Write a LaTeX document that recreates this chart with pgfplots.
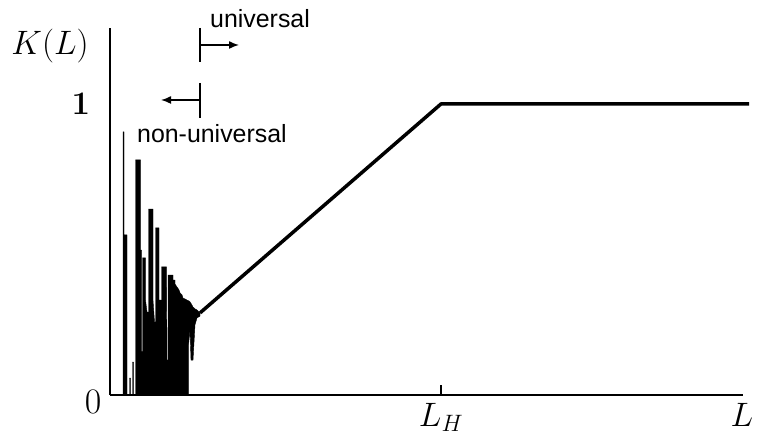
\RequirePackage{fix-cm}
\documentclass[border=0pt]{standalone}
\usepackage{fontspec}
\setsansfont{Liberation Sans}
\usepackage{pgfplots}
\pgfplotsset{compat=1.18}
\usetikzlibrary{arrows.meta}

\begin{document}
\begin{tikzpicture}[x=1bp,y=1bp]
\useasboundingbox (0,0) rectangle (757,443);
\begin{axis}[
  at={(110bp,48bp)}, anchor=south west, scale only axis,
  width=633bp, height=367bp,
  xmin=0, xmax=633, ymin=0, ymax=1.261,
  axis x line=bottom, axis y line=left,
  axis line style={-, line width=1.5bp},
  xtick={331}, xticklabels={$L_H$},
  ytick=\empty,
  tick align=inside, major tick length=10bp,
  xtick style={line width=2bp, black},
  xticklabel style={font=\fontsize{34}{40}\selectfont, anchor=north, inner sep=0pt, yshift=-8bp},
  clip=false,
]
% non-universal regime: erratic spikes at small L
\addplot[fill=black, draw=black, line width=0.4bp, line join=miter] coordinates {
  (11,0)
  (13,0)(13,0.904)(14,0.904)(14,0.550)(17,0.550)(17,0)
  (19.5,0)(19.5,0.058)(20.5,0.058)(20.5,0)
  (22.5,0)(22.5,0.113)(23.5,0.113)(23.5,0)
  (25.5,0)(25.5,0.808)(30.5,0.808)(30.5,0.498)(31.5,0.498)(31.5,0.150)
  (32.5,0.150)(32.5,0.471)(35.5,0.471)(35.5,0.326)(37,0.285)(38.5,0.285)
  (38.5,0.639)(43,0.639)(43,0.326)(44.5,0.251)(45.5,0.251)
  (45.5,0.574)(49,0.574)(49,0.326)(51.5,0.326)
  (51.5,0.440)(56.5,0.440)(56.5,0.395)(57,0.120)(58,0.120)
  (58,0.412)(63,0.412)
  (63,0.395)(65,0.395)(65,0.381)(67,0.371)(69,0.361)(70,0.351)(72,0.344)
  (73,0.333)(75,0.330)(77,0.326)(79,0.323)(80,0.320)(82,0.309)(83,0.302)
  (85,0.296)(87,0.292)(89,0.285)(90,0.282)
  (90,0.271)(87,0.265)(85,0.241)(83,0.120)(81,0.120)(80,0.223)(78.5,0.172)(78.5,0)
} -- cycle;
% universal regime: linear rise up to L_H, then saturation
\addplot[line width=3.5bp, line join=round] coordinates {
  (90,0.282)(331,1)(639,1)
};
\node[font=\fontsize{34}{40}\selectfont, anchor=north, inner sep=0pt] at (axis cs:632,0) [yshift=-8bp] {$L$};
\end{axis}

% axis annotations
\node[anchor=base, inner sep=0pt, font=\fontsize{34}{40}\selectfont] at (50,388) {$K(L)$};
\node[anchor=center, inner sep=0pt, font=\fontsize{33}{38}\selectfont\bfseries] at (81,339.5) {1};
\node[anchor=center, inner sep=0pt, font=\fontsize{36}{40}\selectfont] at (93,41) {$0$};

% regime markers
\draw[line width=1.5bp] (200,415) -- (200,381);
\draw[line width=1.5bp, -{Latex[length=10bp,width=8bp]}] (200,398) -- (239,398);
\draw[line width=1.5bp] (200,360) -- (200,325);
\draw[line width=1.5bp, -{Latex[length=10bp,width=8bp]}] (200,343) -- (161,343);
\node[anchor=base west, inner sep=0pt, font=\sffamily\fontsize{25}{30}\selectfont] at (210,415) {universal};
\node[anchor=base west, inner sep=0pt, font=\sffamily\fontsize{25}{30}\selectfont] at (137,300) {non-universal};
\end{tikzpicture}
\end{document}
